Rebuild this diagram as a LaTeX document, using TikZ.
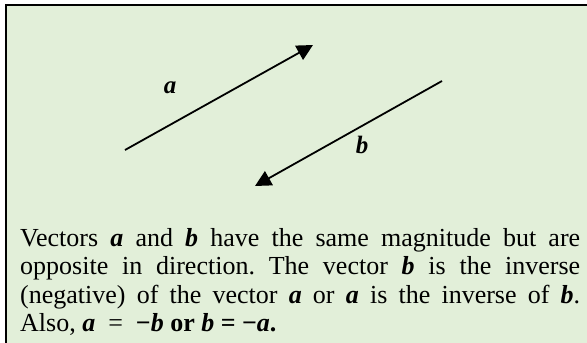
\documentclass[tikz,border=0pt]{standalone}
\usepackage{fontspec}
\setmainfont{Liberation Serif}
\usetikzlibrary{arrows.meta}
\definecolor{panel}{RGB}{226,239,217}
\newcommand{\vecsym}[1]{\textbf{\textit{#1}}}

\begin{document}
\begin{tikzpicture}[x=1pt, y=-1pt,
  vec/.style={line width=1.8pt, -{Triangle[length=16pt, width=16pt]}},
  lab/.style={font=\fontsize{25}{28}\selectfont\bfseries\itshape}]
  \useasboundingbox (0,0) rectangle (587,343);
  \clip (0,0) rectangle (587,343);
  % panel
  \draw[line width=2pt, fill=panel] (6,5) rectangle (620,380);
  % vector a
  \coordinate (aTail) at (125,150);
  \coordinate (aHead) at (313,45);
  \draw[vec] (aTail) -- (aHead);
  \node[lab] (labA) at (170,88) {a};
  % vector b (opposite)
  \coordinate (bTail) at (442,81);
  \coordinate (bHead) at (255,186);
  \draw[vec] (bTail) -- (bHead);
  \node[lab] (labB) at (362,144.5) {b};
  % caption
  \node[anchor=north west, inner sep=0pt, text width=560pt, align=justify,
        font=\fontsize{26}{28.4}\selectfont\frenchspacing] (caption) at (20,228)
    {Vectors \vecsym{a} and \vecsym{b} have the same magnitude but are\linebreak
     opposite in direction. The vector \vecsym{b} is the inverse\linebreak
     (negative) of the vector \vecsym{a} or \vecsym{a} is the inverse of \vecsym{b}.\linebreak
     Also, \vecsym{a}\enspace=\enspace\textbf{−\textit{b} or \textit{b} = −\textit{a}.}};
\end{tikzpicture}
\end{document}
